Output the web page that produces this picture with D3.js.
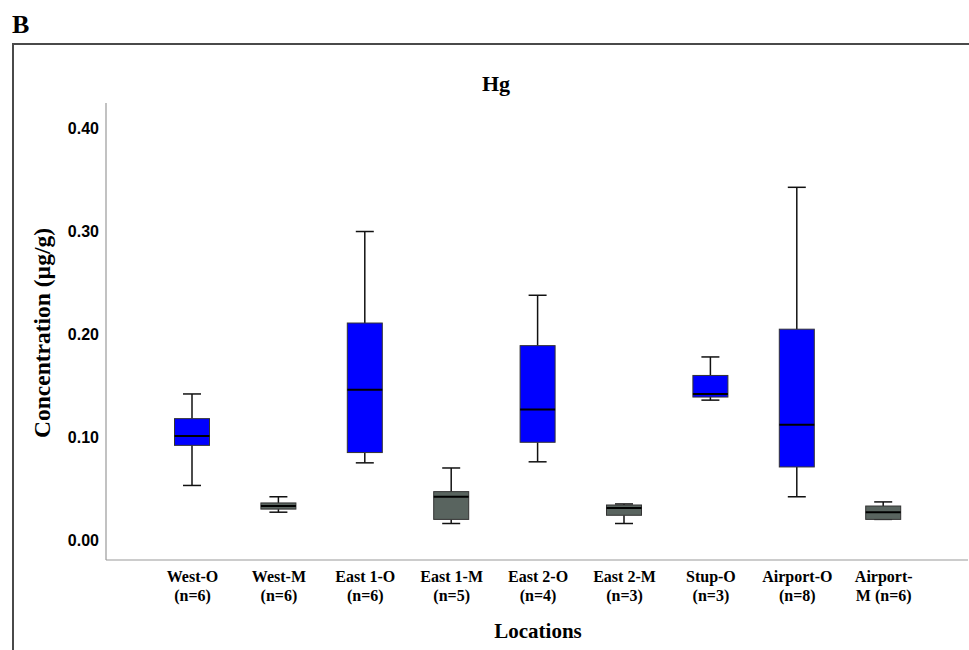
<!DOCTYPE html>
<html>
<head>
<meta charset="utf-8">
<script src="https://cdn.jsdelivr.net/npm/d3@7"></script>
<style>
  body { margin:0; background:#fff; }
  svg text { font-family: "Liberation Serif", "Times New Roman", serif; font-weight: bold; fill:#000; }
  .ytick text { font-family: "Liberation Sans", Arial, sans-serif; }
</style>
</head>
<body>
<div id="chart"></div>
<script>
// Hg concentration by location, box plots
const locations = ["West-O","West-M","East 1-O","East 1-M","East 2-O","East 2-M","Stup-O","Airport-O","Airport-M"];
const labelTop  = ["West-O","West-M","East 1-O","East 1-M","East 2-O","East 2-M","Stup-O","Airport-O","Airport-"];
const labelBot  = ["(n=6)","(n=6)","(n=6)","(n=5)","(n=4)","(n=3)","(n=3)","(n=8)","M (n=6)"];
const kind      = ["O","M","O","M","O","M","O","O","M"];

const whiskLo = [0.053, 0.027, 0.075, 0.016, 0.076, 0.016, 0.136, 0.042, 0.020];
const q1      = [0.092, 0.030, 0.085, 0.020, 0.095, 0.024, 0.139, 0.071, 0.020];
const median  = [0.101, 0.033, 0.146, 0.042, 0.127, 0.031, 0.142, 0.112, 0.027];
const q3      = [0.118, 0.036, 0.211, 0.047, 0.189, 0.034, 0.160, 0.205, 0.033];
const whiskHi = [0.142, 0.042, 0.300, 0.070, 0.238, 0.035, 0.178, 0.343, 0.037];

const yTicks = [0, 0.1, 0.2, 0.3, 0.4];

const W = 969, H = 650;
const svg = d3.select("#chart").append("svg").attr("width", W).attr("height", H);

// panel letter + the cut-off frame
svg.append("text").attr("x", 12).attr("y", 33).style("font-size","26px").text("B");
svg.append("path").attr("d", `M13,${H} V44 H${W}`)
  .attr("fill","none").attr("stroke","#4a4a4a").attr("stroke-width",2);

const pl = 106, pt = 103, pb = 560, pr = 968;

const x = d3.scalePoint().domain(locations).range([192, 883.2]);
const y = d3.scaleLinear().domain([-0.0195, 0.425]).range([pb, pt]);

const color = d3.scaleOrdinal().domain(["O","M"]).range(["#0000ff","#59645f"]);

// axes lines (grey, SPSS style)
svg.append("line").attr("x1", pl).attr("x2", pl).attr("y1", pt).attr("y2", pb)
  .attr("stroke","#999").attr("stroke-width",1.2);
svg.append("line").attr("x1", pl).attr("x2", pr).attr("y1", pb).attr("y2", pb)
  .attr("stroke","#999").attr("stroke-width",1.2);

const gy = svg.append("g").attr("class","ytick").attr("transform", `translate(${pl},0)`)
  .call(d3.axisLeft(y).tickValues(yTicks).tickFormat(d3.format(".2f")).tickSize(0).tickPadding(7));
gy.select(".domain").remove();
gy.selectAll("text").style("font-size","16px").attr("fill","#000");

const gx = svg.append("g").attr("transform", `translate(0,${pb})`)
  .call(d3.axisBottom(x).tickSize(0).tickFormat(""));
gx.select(".domain").remove();
gx.selectAll(".tick").each(function(d){
  const i = locations.indexOf(d);
  const t = d3.select(this).append("text").attr("text-anchor","middle").style("font-size","16px");
  t.append("tspan").attr("x",0).attr("y",22).text(labelTop[i]);
  t.append("tspan").attr("x",0).attr("y",40.5).text(labelBot[i]);
});

// titles
svg.append("text").attr("x", 496).attr("y", 91).attr("text-anchor","middle").style("font-size","22px").text("Hg");
svg.append("text").attr("x", 538).attr("y", 638).attr("text-anchor","middle").style("font-size","21px").text("Locations");
svg.append("text").attr("transform", `translate(50,333) rotate(-90)`)
  .attr("text-anchor","middle").style("font-size","23.5px").text("Concentration (µg/g)");

// boxes
const boxW = 35, capW = 18;
const rows = locations.map((d,i) => ({loc:d, k:kind[i], lo:whiskLo[i], q1:q1[i], med:median[i], q3:q3[i], hi:whiskHi[i]}));

const gb = svg.append("g").selectAll("g").data(rows).enter().append("g")
  .attr("transform", d => `translate(${x(d.loc)},0)`);

gb.append("line").attr("x1",0).attr("x2",0).attr("y1", d=>y(d.hi)).attr("y2", d=>y(d.q3))
  .attr("stroke","#111").attr("stroke-width",1.5);
gb.append("line").attr("x1",0).attr("x2",0).attr("y1", d=>y(d.q1)).attr("y2", d=>y(d.lo))
  .attr("stroke","#111").attr("stroke-width",1.5);
gb.append("line").attr("x1",-capW/2).attr("x2",capW/2).attr("y1", d=>y(d.hi)).attr("y2", d=>y(d.hi))
  .attr("stroke","#111").attr("stroke-width",1.5);
gb.append("line").attr("x1",-capW/2).attr("x2",capW/2).attr("y1", d=>y(d.lo)).attr("y2", d=>y(d.lo))
  .attr("stroke","#111").attr("stroke-width",1.5);
gb.append("rect").attr("x",-boxW/2).attr("width",boxW)
  .attr("y", d=>y(d.q3)).attr("height", d=>Math.max(1, y(d.q1)-y(d.q3)))
  .attr("fill", d=>color(d.k)).attr("stroke","#333").attr("stroke-width",1);
gb.append("line").attr("x1",-boxW/2).attr("x2",boxW/2).attr("y1", d=>y(d.med)).attr("y2", d=>y(d.med))
  .attr("stroke","#000").attr("stroke-width",2);
</script>
</body>
</html>
